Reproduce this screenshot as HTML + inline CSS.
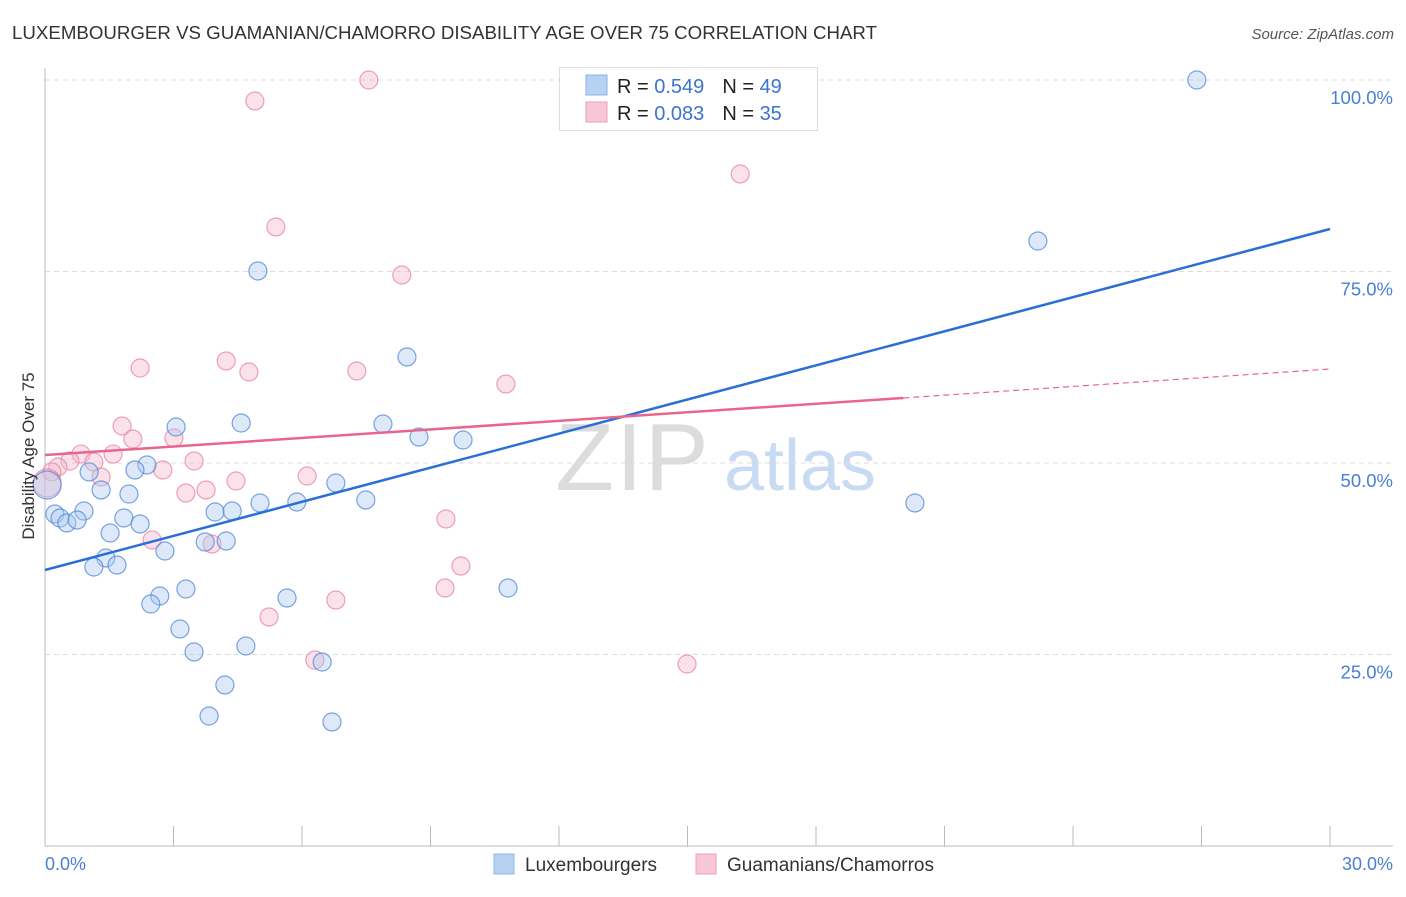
<!DOCTYPE html>
<html><head><meta charset="utf-8">
<style>
body{margin:0;background:#fff;font-family:"Liberation Sans",sans-serif;}
svg text{font-family:"Liberation Sans",sans-serif;}
</style></head>
<body>
<svg id="chart" width="1406" height="892" viewBox="0 0 1406 892" xmlns="http://www.w3.org/2000/svg">
<text x="12" y="39" font-size="18" fill="#333" textLength="865" lengthAdjust="spacingAndGlyphs">LUXEMBOURGER VS GUAMANIAN/CHAMORRO DISABILITY AGE OVER 75 CORRELATION CHART</text>
<text x="1394" y="39" font-size="15" fill="#555" text-anchor="end" font-style="italic">Source: ZipAtlas.com</text>
<g>
<text x="633" y="490" font-size="96" fill="#dcdcdc" text-anchor="middle" font-family="Liberation Serif" letter-spacing="2">ZIP</text>
<text x="800" y="490" font-size="72" fill="#c9daf3" text-anchor="middle">atlas</text>
</g>
<g id="grid"></g>
<g id="axes"></g>
<g id="marks"></g>
<text transform="translate(34,456) rotate(-90)" font-size="17" fill="#333" text-anchor="middle">Disability Age Over 75</text>
<g>
<rect x="559.5" y="67.5" width="258" height="63" fill="#fff" stroke="#ddd"/>
<rect x="586" y="75" width="21" height="20" fill="#b7d1f3" stroke="#8db3e8"/>
<rect x="586" y="102" width="21" height="20" fill="#f9c6d5" stroke="#ee9fb7"/>
<text x="617" y="93" font-size="20" fill="#222">R = <tspan fill="#3a75d0">0.549</tspan><tspan dx="18" fill="#222">N = </tspan><tspan fill="#3a75d0">49</tspan></text>
<text x="617" y="120" font-size="20" fill="#222">R = <tspan fill="#3a75d0">0.083</tspan><tspan dx="18" fill="#222">N = </tspan><tspan fill="#3a75d0">35</tspan></text>
</g>
<g>
<rect x="494" y="854" width="20" height="20" fill="#b7d1f3" stroke="#8db3e8"/>
<text x="525" y="871" font-size="19" fill="#333">Luxembourgers</text>
<rect x="696" y="854" width="20" height="20" fill="#f9c6d5" stroke="#ee9fb7"/>
<text x="727" y="871" font-size="19" fill="#333">Guamanians/Chamorros</text>
</g>
</svg>
<script>
const blueX=[26.89,23.18,4.97,8.45,20.31,4.58,3.06,7.89,8.73,9.76,2.38,2.10,1.03,6.79,1.31,1.96,7.49,5.88,5.02,3.97,4.37,0.91,0.23,0.35,0.51,0.75,1.84,2.22,1.52,3.74,4.23,2.80,1.42,1.14,1.68,10.81,3.29,2.68,5.65,2.47,3.15,3.48,4.69,6.47,4.20,3.83,6.70];
const blueY=[100.0,78.98,75.07,63.84,44.78,55.22,54.70,55.09,53.39,53.00,49.74,49.09,48.83,47.39,46.48,45.95,45.17,44.91,44.78,43.60,43.73,43.73,43.34,42.82,42.17,42.56,42.82,42.04,40.86,39.69,39.82,38.51,37.60,36.42,36.68,33.68,33.55,32.64,32.38,31.59,28.33,25.33,26.11,24.02,21.02,16.97,16.19];
const pinkX=[7.56,4.90,16.23,5.39,8.33,2.22,4.23,4.76,7.28,10.76,1.80,2.05,3.01,0.84,1.59,0.58,1.14,3.48,0.30,2.75,1.31,6.12,4.46,3.29,3.76,9.36,2.50,3.90,9.71,9.34,5.23,6.79,6.30,14.99,0.16];
const pinkY=[100.0,97.26,87.73,80.81,74.54,62.40,63.32,61.88,62.01,60.31,54.83,53.13,53.26,51.17,51.17,50.26,50.13,50.26,49.48,49.09,48.17,48.30,47.65,46.08,46.48,42.69,39.95,39.43,36.55,33.68,29.90,32.11,24.28,23.76,48.83];
const bigBlue=[0.05,47.13];
const bigPink=[0.05,47.39];
const blueTrend=[[0,36.03],[30,80.55]];
const pinkTrendSolid=[[0,51.04],[20.04,58.49]];
const pinkTrendDash=[[20.04,58.49],[30,62.27]];
const yTicks=[25,50,75,100];
const yTickLabels=["25.0%","50.0%","75.0%","100.0%"];
const xTicks=[0,3,6,9,12,15,18,21,24,27,30];
const NS="http://www.w3.org/2000/svg";
const X=v=>45+v/30*1285;
const Y=v=>846-v/100*766;
function mk(parent,tag,attrs){const e=document.createElementNS(NS,tag);for(const k in attrs)e.setAttribute(k,attrs[k]);parent.appendChild(e);return e;}
const grid=document.getElementById('grid'),axes=document.getElementById('axes'),marks=document.getElementById('marks');
yTicks.forEach((t,i)=>{
 const l=mk(grid,'line',{x1:45,x2:1393,y1:Y(t),y2:Y(t),stroke:'#ddd','stroke-dasharray':'5,4'});
 
 
 const tx=mk(axes,'text',{x:1393,y:Y(t)+24,'font-size':18.5,fill:'#4a7fd6','text-anchor':'end'});
 tx.textContent=yTickLabels[i];
 
 
});
let a=mk(axes,'line',{x1:45,x2:45,y1:68,y2:846,stroke:'#bbb'});


a=mk(axes,'line',{x1:45,x2:1393,y1:846,y2:846,stroke:'#bbb'});


xTicks.forEach(t=>{
 const l=mk(axes,'line',{x1:X(t),x2:X(t),y1:826,y2:846,stroke:'#bbb'});
 
 
});
let xl=mk(axes,'text',{x:45,y:870,'font-size':18,fill:'#4a7fd6'});xl.textContent='0.0%';


xl=mk(axes,'text',{x:1393,y:870,'font-size':18,fill:'#4a7fd6','text-anchor':'end'});xl.textContent='30.0%';


function dot(x,y,r,fill,stroke,name){
 const c=mk(marks,'circle',{cx:X(x),cy:Y(y),r:r,fill:fill,'fill-opacity':0.4,stroke:stroke,'stroke-opacity':0.75,'stroke-width':1.2});
 
 
}
pinkX.forEach((x,i)=>dot(x,pinkY[i],9,'#f5b3c7','#e8839f','guamanian-point'));
dot(bigPink[0],bigPink[1],14,'#f5b3c7','#e8839f','guamanian-point');
blueX.forEach((x,i)=>dot(x,blueY[i],9,'#a9c8f0','#4f86d8','luxembourger-point'));
dot(bigBlue[0],bigBlue[1],14,'#a9c8f0','#4f86d8','luxembourger-point');
let t=mk(marks,'line',{x1:X(blueTrend[0][0]),y1:Y(blueTrend[0][1]),x2:X(blueTrend[1][0]),y2:Y(blueTrend[1][1]),stroke:'#2a6fd6','stroke-width':2.5});


t=mk(marks,'line',{x1:X(pinkTrendSolid[0][0]),y1:Y(pinkTrendSolid[0][1]),x2:X(pinkTrendSolid[1][0]),y2:Y(pinkTrendSolid[1][1]),stroke:'#e8668e','stroke-width':2.5});


t=mk(marks,'line',{x1:X(pinkTrendDash[0][0]),y1:Y(pinkTrendDash[0][1]),x2:X(pinkTrendDash[1][0]),y2:Y(pinkTrendDash[1][1]),stroke:'#e8668e','stroke-width':1.2,'stroke-dasharray':'6,4'});


</script>
</body></html>
